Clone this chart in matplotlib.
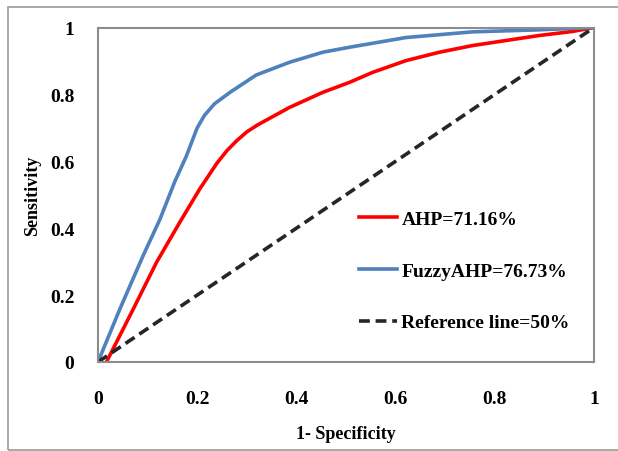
import matplotlib.pyplot as plt
from matplotlib.patches import Rectangle

# ROC points
ahp_fpr = [0.017, 0.071, 0.118, 0.165, 0.205, 0.24, 0.26, 0.28, 0.3, 0.322,
           0.386, 0.453, 0.507, 0.554, 0.621, 0.688, 0.755, 0.822, 0.889,
           0.956, 1.0]
ahp_tpr = [0.0, 0.158, 0.298, 0.418, 0.517, 0.595, 0.632, 0.662, 0.688, 0.709,
           0.761, 0.806, 0.836, 0.866, 0.901, 0.926, 0.946, 0.961, 0.976,
           0.988, 1.0]

fuzzy_fpr = [0.0, 0.044, 0.091, 0.125, 0.155, 0.178, 0.2, 0.215, 0.235,
             0.266, 0.319, 0.386, 0.453, 0.507, 0.621, 0.755, 0.889, 1.0]
fuzzy_tpr = [0.0, 0.158, 0.318, 0.427, 0.54, 0.615, 0.70, 0.738, 0.772,
             0.806, 0.858, 0.896, 0.926, 0.941, 0.970, 0.987, 0.993, 1.0]

ref_x = [0.0, 1.0]
ref_y = [0.0, 1.0]

labels = ["AHP=71.16%", "FuzzyAHP=76.73%", "Reference line=50%"]
ticks = [0, 0.2, 0.4, 0.6, 0.8, 1]
tick_labels = ["0", "0.2", "0.4", "0.6", "0.8", "1"]

plt.rcParams['font.family'] = ['Liberation Serif', 'DejaVu Serif']
plt.rcParams['font.weight'] = 'bold'

fig = plt.figure(figsize=(6.18, 4.52), dpi=100)
ax = fig.add_axes([98 / 618, 89 / 452, 496 / 618, 334.5 / 452])

# outer frame around the whole picture
fig.patches.append(Rectangle((8 / 618, 1 / 452), 1.0, 443 / 452,
                             transform=fig.transFigure, fill=False,
                             edgecolor='#9a9a9a', linewidth=1.2))

ax.plot(ahp_fpr, ahp_tpr, color='#ff0000', linewidth=2.6, label=labels[0],
        solid_joinstyle='round')
ax.plot(fuzzy_fpr, fuzzy_tpr, color='#4f81bd', linewidth=2.6, label=labels[1],
        solid_joinstyle='round')
ax.plot(ref_x, ref_y, color='#262626', linewidth=2.6, linestyle=(0, (3, 1.6)),
        label=labels[2])

ax.set_xlim(0, 1)
ax.set_ylim(0, 1)
ax.set_xticks(ticks)
ax.set_xticklabels(tick_labels)
ax.set_yticks(ticks)
ax.set_yticklabels(tick_labels)
ax.tick_params(length=0, labelsize=14)
ax.tick_params(axis='y', pad=17)
ax.tick_params(axis='x', pad=20)
for s in ax.spines.values():
    s.set_color('#8c8c8c')
    s.set_linewidth(1.5)

ax.set_xlabel("1- Specificity", fontsize=13, fontweight='bold', labelpad=13)
ax.set_ylabel("Sensitivity", fontsize=13, fontweight='bold', labelpad=6)

ax.legend(loc='upper left', bbox_to_anchor=(0.49, 0.505), frameon=False,
          fontsize=14, handlelength=2.0, handletextpad=0.2, labelspacing=1.75)

fig.savefig("out.png", dpi=100)
